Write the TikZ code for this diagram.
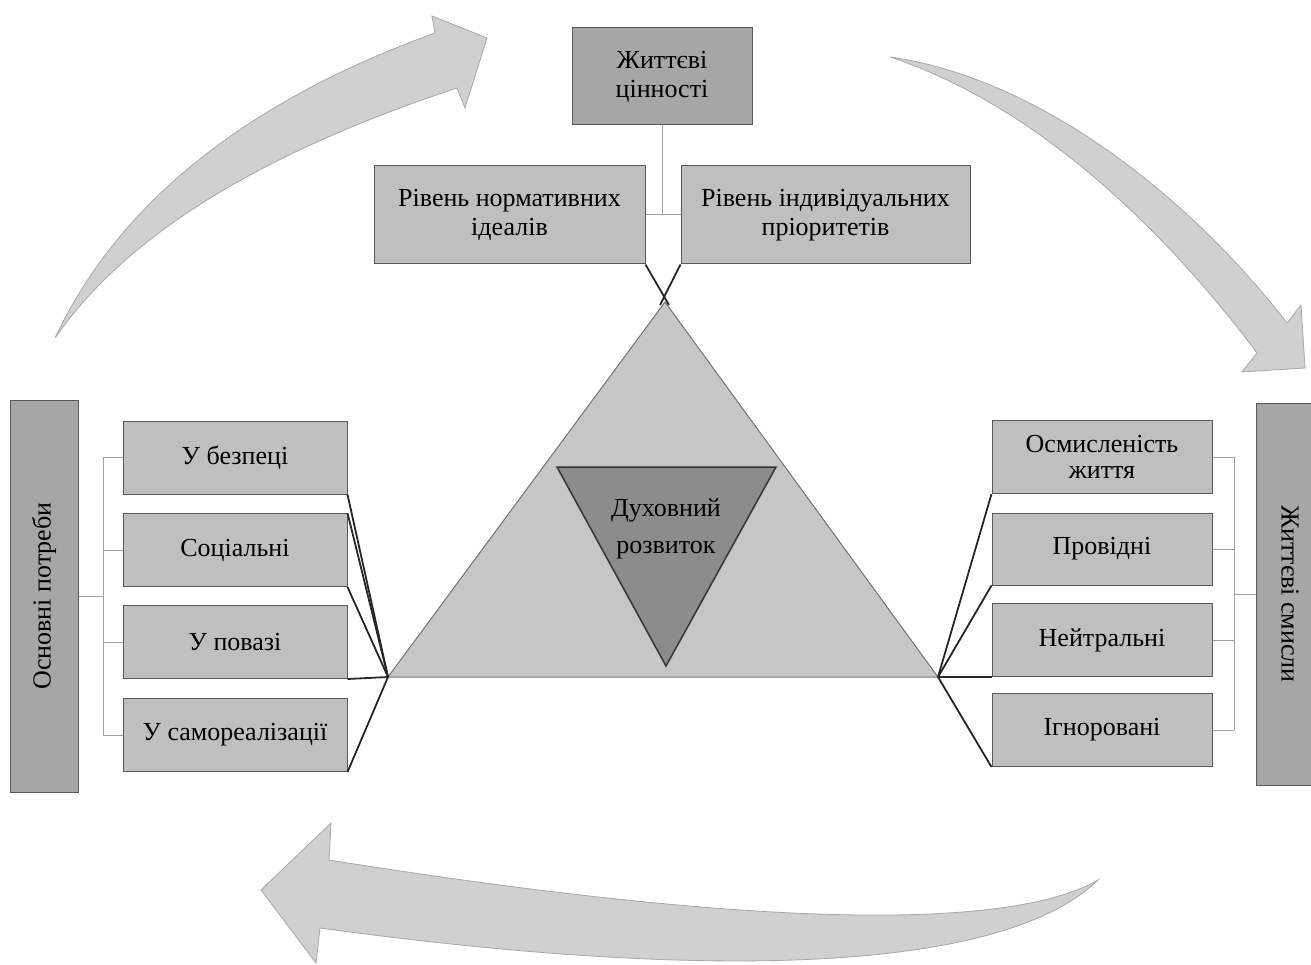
\documentclass[tikz,border=0pt]{standalone}
\usepackage{fontspec}
\setmainfont{Liberation Serif}
\newfontfamily\tnr{Liberation Serif}
\definecolor{boxfill}{HTML}{BFBFBF}
\definecolor{darkfill}{HTML}{A6A6A6}
\definecolor{boxedge}{HTML}{5A5A5A}
\definecolor{arrowfill}{HTML}{D0D0D0}
\definecolor{arrowedge}{HTML}{A8A8A8}
\definecolor{trifill}{HTML}{C6C6C6}
\definecolor{innerfill}{HTML}{8C8C8C}
\definecolor{brack}{HTML}{A0A0A0}
\begin{document}
\begin{tikzpicture}[x=1pt,y=-1pt,
  txt/.style={font=\tnr\fontsize{26}{29}\selectfont, align=center, text=black},
  gbox/.style={txt, draw=boxedge, line width=1pt, fill=boxfill, rectangle, inner sep=0pt},
  dbox/.style={gbox, fill=darkfill},
  bigarrow/.style={fill=arrowfill, draw=arrowedge, line width=0.8pt},
  fan/.style={draw=black!85, line width=1.8pt},
  brk/.style={draw=brack, line width=1pt}]
\useasboundingbox (0,0) rectangle (1311,965);

% curved arrows
\path[bigarrow] (55,338) .. controls (120,200) and (250,100) .. (435,33)
  -- (432,16) -- (487,38) -- (465,108) -- (457,88)
  .. controls (270,150) and (130,230) .. (55,338) -- cycle;
\path[bigarrow] (890,57) .. controls (1050,80) and (1200,210) .. (1287,323)
  -- (1301,305) -- (1305,368) -- (1242,372) -- (1257,353)
  .. controls (1180,250) and (1050,110) .. (890,57) -- cycle;
\path[bigarrow] (1098,880) .. controls (1020,925) and (800,935) .. (329,860)
  -- (331,823) -- (261,890) -- (316,963) -- (320,928)
  .. controls (700,980) and (1000,975) .. (1098,880) -- cycle;

% big triangle
\coordinate (apex) at (665,302);
\coordinate (tl) at (388,677);
\coordinate (tr) at (938,677);
\draw[fill=trifill, draw=black!55, line width=1pt] (apex) -- (tr) -- (tl) -- cycle;
\coordinate (i1) at (557,467);
\coordinate (i2) at (776,467);
\coordinate (i3) at (666,666);
\draw[fill=innerfill, draw=black!80, line width=1.5pt] (i1) -- (i2) -- (i3) -- cycle;
\node[txt] (dr) at (666,529) {Духовний\\[8pt]розвиток};

% top boxes
\node[dbox, minimum width=180pt, minimum height=97pt] (top) at (662,76.5) {Життєві\\цінності};
\node[gbox, minimum width=271pt, minimum height=98pt] (lvlL) at (509.5,215) {Рівень нормативних\\ідеалів};
\node[gbox, minimum width=289pt, minimum height=98pt] (lvlR) at (825.5,215) {Рівень індивідуальних\\пріоритетів};
\draw[brk] (top.south) -- (top.south |- lvlL.east);
\draw[brk] (lvlL.east) -- (lvlR.west);
\coordinate (xl) at (669,305);
\coordinate (xr) at (660,305);
\draw[fan] (lvlL.south east) -- (xl);
\draw[fan] (lvlR.south west) -- (xr);

% left side
\node[dbox, minimum width=68pt, minimum height=392pt] (needs) at (44,596) {};
\node[txt, rotate=90] at (needs.center) {Основні потреби};
\node[gbox, minimum width=224pt, minimum height=73pt] (b1) at (235,457.5) {У безпеці};
\node[gbox, minimum width=224pt, minimum height=73pt] (b2) at (235,550) {Соціальні};
\node[gbox, minimum width=224pt, minimum height=73pt] (b3) at (235,642) {У повазі};
\node[gbox, minimum width=224pt, minimum height=73pt] (b4) at (235,735) {У самореалізації};
\coordinate (lb) at (103,596);
\draw[brk] (needs.east) -- (lb);
\draw[brk] (lb |- b1.west) -- (lb |- b4.west);
\foreach \b in {b1,b2,b3,b4} \draw[brk] (lb |- \b.west) -- (\b.west);
\draw[fan] (tl) -- (b1.south east);
\draw[fan] (tl) -- (b2.north east);
\draw[fan] (tl) -- (b2.south east);
\draw[fan] (tl) -- (b3.south east);
\draw[fan] (tl) -- (b4.south east);

% right side
\node[dbox, minimum width=68pt, minimum height=382pt] (sens) at (1290,594) {};
\node[txt, rotate=-90] at (sens.center) {Життєві смисли};
\node[gbox, minimum width=220pt, minimum height=73pt] (r1) at (1102,457) {Осмисленість\\[-3pt]життя};
\node[gbox, minimum width=220pt, minimum height=72pt] (r2) at (1102,549) {Провідні};
\node[gbox, minimum width=220pt, minimum height=73pt] (r3) at (1102,640) {Нейтральні};
\node[gbox, minimum width=220pt, minimum height=73pt] (r4) at (1102,730) {Ігноровані};
\coordinate (rb) at (1234,594);
\draw[brk] (sens.west) -- (rb);
\draw[brk] (rb |- r1.east) -- (rb |- r4.east);
\foreach \b in {r1,r2,r3,r4} \draw[brk] (\b.east) -- (rb |- \b.east);
\draw[fan] (tr) -- (r1.south west);
\draw[fan] (tr) -- (r2.south west);
\draw[fan] (tr) -- (r3.south west);
\draw[fan] (tr) -- (r4.south west);
\end{tikzpicture}
\end{document}
